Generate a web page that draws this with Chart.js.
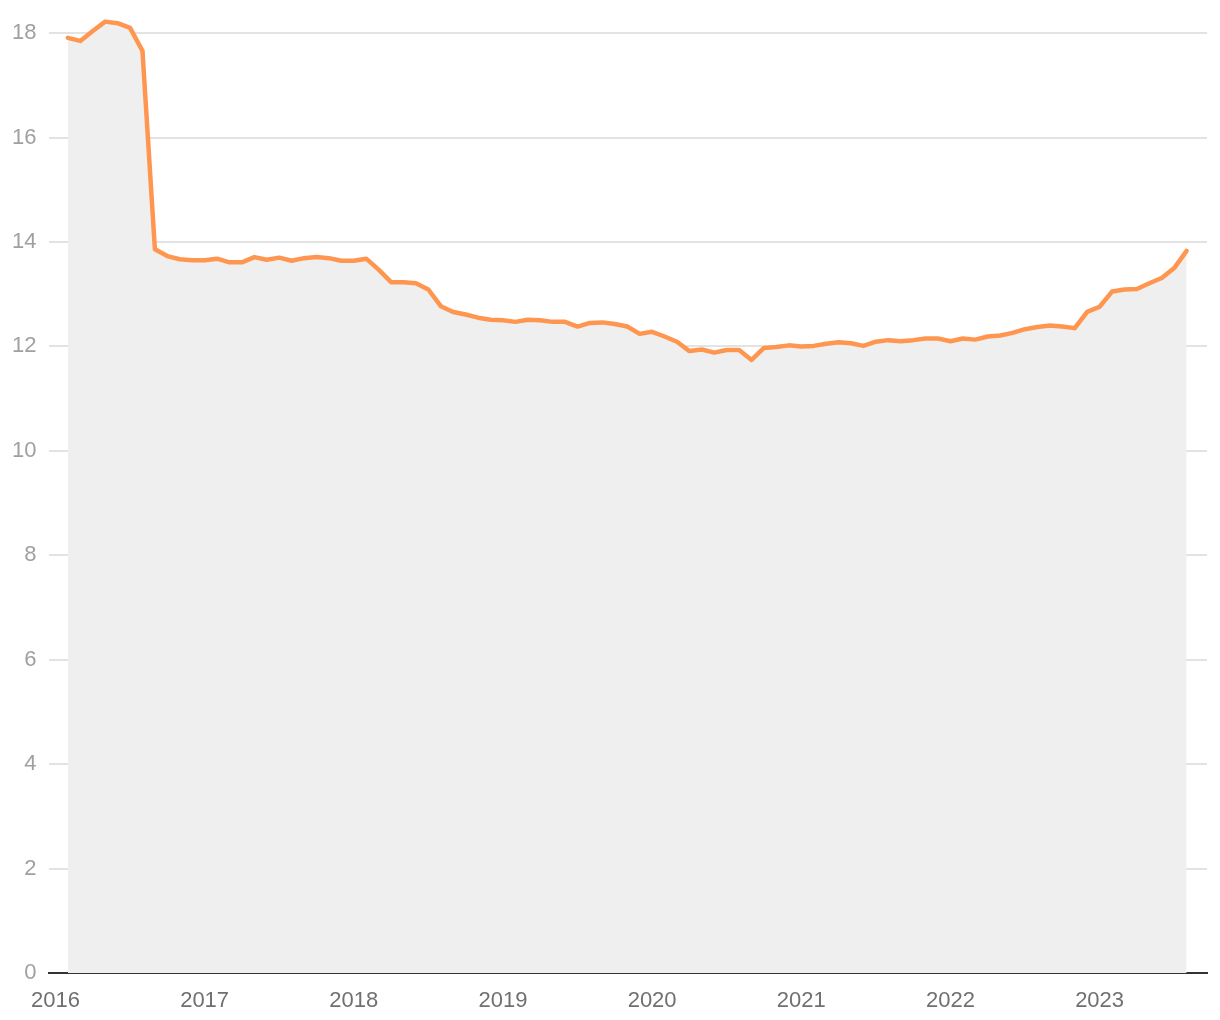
<!DOCTYPE html>
<html>
<head>
<meta charset="utf-8">
<script src="https://cdn.jsdelivr.net/npm/chart.js@4/dist/chart.umd.min.js"></script>
<style>
  html, body { margin: 0; padding: 0; background: #ffffff; }
  #wrap { width: 1220px; height: 1020px; }
</style>
</head>
<body>
<div id="wrap"><canvas id="c" width="1220" height="1020"></canvas></div>
<script>
// Months (YYYY-MM), Feb 2016 .. Aug 2023
const months = [
  "2016-02","2016-03","2016-04","2016-05","2016-06","2016-07","2016-08","2016-09","2016-10","2016-11","2016-12",
  "2017-01","2017-02","2017-03","2017-04","2017-05","2017-06","2017-07","2017-08","2017-09","2017-10","2017-11","2017-12",
  "2018-01","2018-02","2018-03","2018-04","2018-05","2018-06","2018-07","2018-08","2018-09","2018-10","2018-11","2018-12",
  "2019-01","2019-02","2019-03","2019-04","2019-05","2019-06","2019-07","2019-08","2019-09","2019-10","2019-11","2019-12",
  "2020-01","2020-02","2020-03","2020-04","2020-05","2020-06","2020-07","2020-08","2020-09","2020-10","2020-11","2020-12",
  "2021-01","2021-02","2021-03","2021-04","2021-05","2021-06","2021-07","2021-08","2021-09","2021-10","2021-11","2021-12",
  "2022-01","2022-02","2022-03","2022-04","2022-05","2022-06","2022-07","2022-08","2022-09","2022-10","2022-11","2022-12",
  "2023-01","2023-02","2023-03","2023-04","2023-05","2023-06","2023-07","2023-08"
];
const values = [
  17.91,17.85,18.04,18.22,18.19,18.10,17.66,13.86,13.73,13.67,13.65,
  13.65,13.68,13.61,13.61,13.71,13.66,13.70,13.64,13.69,13.71,13.69,13.64,
  13.64,13.68,13.47,13.23,13.23,13.21,13.09,12.77,12.66,12.61,12.55,12.51,
  12.50,12.47,12.51,12.50,12.47,12.47,12.38,12.45,12.46,12.43,12.38,12.24,
  12.28,12.19,12.09,11.91,11.94,11.88,11.93,11.93,11.74,11.97,11.99,12.02,
  12.00,12.01,12.05,12.08,12.06,12.01,12.09,12.12,12.10,12.12,12.15,12.15,
  12.10,12.15,12.13,12.19,12.21,12.26,12.33,12.37,12.40,12.38,12.35,12.66,
  12.76,13.05,13.09,13.10,13.21,13.31,13.50,13.83
];
const yearLabels = ["2016","2017","2018","2019","2020","2021","2022","2023"];
const yTicks = [0,2,4,6,8,10,12,14,16,18];

const baseYear = 2016;
function monthIndex(m) {
  const [y, mo] = m.split("-").map(Number);
  return (y - baseYear) * 12 + (mo - 1);
}
const points = months.map((m, i) => ({ x: monthIndex(m), y: values[i] }));
const yearPositions = yearLabels.map(y => (Number(y) - baseYear) * 12);

const FONT = "'Liberation Sans', Arial, Helvetica, sans-serif";

new Chart(document.getElementById("c"), {
  type: "line",
  data: {
    datasets: [{
      data: points,
      borderColor: "#ff9650",
      backgroundColor: "#efefef",
      borderWidth: 4.5,
      fill: "origin",
      pointRadius: 0,
      tension: 0,
      borderCapStyle: "round",
      borderJoinStyle: "round"
    }]
  },
  options: {
    responsive: false,
    animation: false,
    events: [],
    layout: { padding: { top: 7, right: 13, bottom: 0, left: 0 } },
    plugins: { legend: { display: false }, tooltip: { enabled: false } },
    scales: {
      x: {
        type: "linear",
        min: -0.56,
        max: 92.64,
        afterBuildTicks: s => { s.ticks = yearPositions.map(v => ({ value: v })); },
        afterFit: s => { s.height = 47; s.paddingLeft = 0; s.paddingRight = 0; },
        grid: { display: false, drawTicks: false },
        border: { display: true, color: "#333333", width: 2 },
        ticks: {
          autoSkip: false,
          maxRotation: 0,
          padding: 15,
          color: "#707070",
          font: { family: FONT, size: 22 },
          callback: v => yearLabels[yearPositions.indexOf(v)]
        }
      },
      y: {
        min: 0,
        max: 18.5,
        afterBuildTicks: s => { s.ticks = yTicks.map(v => ({ value: v })); },
        afterFit: s => { s.width = 48.5; s.paddingTop = 0; s.paddingBottom = 0; },
        grid: { color: "#e3e3e3", lineWidth: 2, drawTicks: false },
        border: { display: false },
        ticks: {
          padding: 12,
          color: "#a0a0a0",
          font: { family: FONT, size: 22 }
        }
      }
    }
  }
});
</script>
</body>
</html>
